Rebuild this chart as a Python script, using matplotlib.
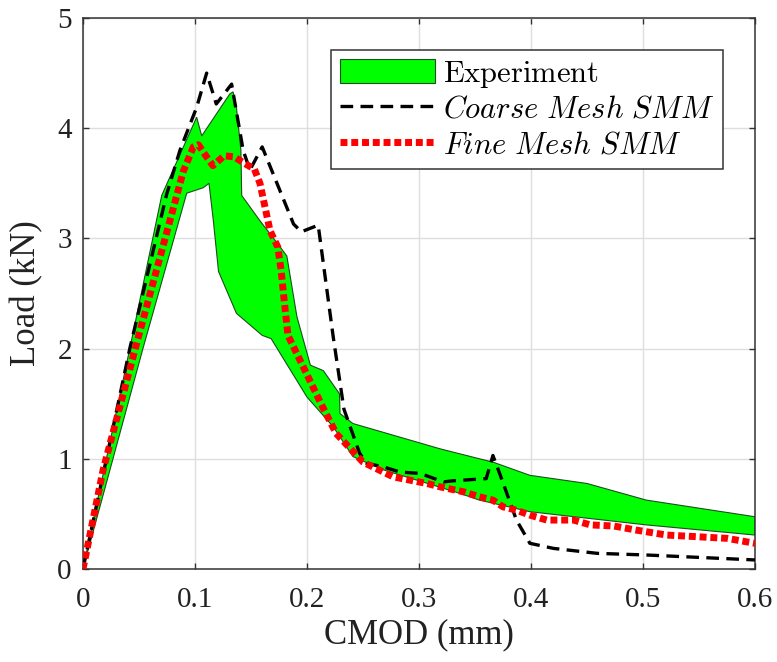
import matplotlib
matplotlib.use("Agg")
import matplotlib.pyplot as plt

plt.rcParams['mathtext.fontset'] = 'cm'
plt.rcParams['font.family'] = ['Liberation Serif', 'DejaVu Serif']

# Experimental envelope (upper and lower bounds of the scatter band)
exp_upper_x = [0, 0.042, 0.0703, 0.1015, 0.106, 0.131, 0.134, 0.137, 0.141, 0.1417,
               0.158, 0.174, 0.182, 0.191, 0.203, 0.2146, 0.229, 0.2295, 0.241,
               0.319, 0.354, 0.366, 0.399, 0.45, 0.503, 0.6]
exp_upper_y = [0, 2.01, 3.39, 4.10, 3.93, 4.31, 4.33, 4.19, 3.80, 3.39,
               3.16, 2.95, 2.84, 2.29, 1.85, 1.80, 1.59, 1.41, 1.32,
               1.09, 1.00, 0.97, 0.85, 0.776, 0.625, 0.474]
exp_lower_x = [0, 0.0538, 0.0926, 0.1074, 0.1125, 0.1164, 0.121, 0.137, 0.160, 0.168,
               0.200, 0.2235, 0.241, 0.268, 0.3366, 0.354, 0.399, 0.503, 0.6]
exp_lower_y = [0, 2.01, 3.41, 3.46, 3.50, 3.16, 2.70, 2.32, 2.12, 2.09,
               1.56, 1.29, 1.02, 0.90, 0.686, 0.625, 0.52, 0.40, 0.308]

# Coarse mesh SMM prediction
coarse_x = [0, 0.042, 0.0747, 0.0866, 0.1015, 0.1104, 0.119, 0.1327, 0.143, 0.149,
            0.160, 0.188, 0.195, 0.21, 0.2235, 0.233, 0.247, 0.253, 0.268, 0.283,
            0.301, 0.322, 0.33, 0.36, 0.366, 0.372, 0.387, 0.399, 0.42, 0.459,
            0.503, 0.6]
coarse_y = [0, 2.01, 3.40, 3.80, 4.19, 4.50, 4.22, 4.40, 3.80, 3.62,
            3.83, 3.13, 3.06, 3.12, 2.10, 1.45, 1.05, 0.96, 0.927, 0.88,
            0.867, 0.79, 0.80, 0.82, 1.03, 0.867, 0.444, 0.233, 0.187, 0.142,
            0.127, 0.082]

# Fine mesh SMM prediction
fine_x = [0, 0.018, 0.048, 0.0896, 0.0985, 0.103, 0.109, 0.116, 0.126, 0.135,
          0.146, 0.153, 0.158, 0.167, 0.174, 0.177, 0.180, 0.183, 0.194, 0.213,
          0.226, 0.25, 0.277, 0.307, 0.319, 0.34, 0.354, 0.366, 0.375, 0.387,
          0.399, 0.414, 0.438, 0.453, 0.474, 0.494, 0.521, 0.548, 0.575, 0.6]
fine_y = [0, 0.90, 2.05, 3.61, 3.83, 3.85, 3.76, 3.66, 3.75, 3.74,
          3.67, 3.63, 3.50, 3.07, 2.92, 2.70, 2.40, 2.12, 1.89, 1.49,
          1.23, 0.97, 0.836, 0.776, 0.745, 0.70, 0.655, 0.625, 0.564, 0.534,
          0.489, 0.444, 0.444, 0.40, 0.39, 0.353, 0.308, 0.293, 0.278, 0.233]

x_ticks = [0, 0.1, 0.2, 0.3, 0.4, 0.5, 0.6]
x_tick_labels = ['0', '0.1', '0.2', '0.3', '0.4', '0.5', '0.6']
y_ticks = [0, 1, 2, 3, 4, 5]
y_tick_labels = ['0', '1', '2', '3', '4', '5']

fig = plt.figure(figsize=(7.77, 6.62), dpi=100)
ax = fig.add_axes([0.1068, 0.1405, 0.8649, 0.8323])

band_x = exp_upper_x + exp_lower_x[::-1]
band_y = exp_upper_y + exp_lower_y[::-1]
ax.fill(band_x, band_y, facecolor=(0, 1, 0), edgecolor='#1e4d1e', linewidth=0.8,
        label=r'$\mathrm{Experiment}$', zorder=2)

ax.plot(coarse_x, coarse_y, color='k', linewidth=2.4, dashes=(3.8, 2.2),
        dash_capstyle='butt', label=r'$Coarse\ Mesh\ SMM$', zorder=3)
ax.plot(fine_x, fine_y, color=(1, 0, 0), linewidth=5.0, dashes=(1.0, 0.55),
        dash_capstyle='butt', label=r'$Fine\ Mesh\ SMM$', zorder=4)

ax.set_xlim(0, 0.6)
ax.set_ylim(0, 5)
ax.set_xticks(x_ticks)
ax.set_xticklabels(x_tick_labels)
ax.set_yticks(y_ticks)
ax.set_yticklabels(y_tick_labels)

ax.grid(True, color='#dedede', linewidth=1.0, zorder=0)
ax.set_axisbelow(True)
for sp in ax.spines.values():
    sp.set_color('#333333')
    sp.set_linewidth(1.1)
ax.tick_params(axis='both', which='both', direction='in', length=4, width=1.0,
               color='#333333', labelsize=21, labelcolor='#222222',
               top=True, right=True)
ax.tick_params(axis='x', pad=13)
ax.tick_params(axis='y', pad=8)

ax.set_xlabel('CMOD (mm)', fontsize=25, color='#222222', labelpad=4)
ax.set_ylabel('Load (kN)', fontsize=25, color='#222222', labelpad=10)

leg = ax.legend(loc='upper right', bbox_to_anchor=(0.952, 0.942), fontsize=22,
                handlelength=3.1, handleheight=0.85, handletextpad=0.28,
                labelspacing=0.18, borderpad=0.28, borderaxespad=0.0,
                fancybox=False, framealpha=1.0, edgecolor='#333333')
leg.get_frame().set_linewidth(1.1)

fig.savefig('out.png', dpi=100)
